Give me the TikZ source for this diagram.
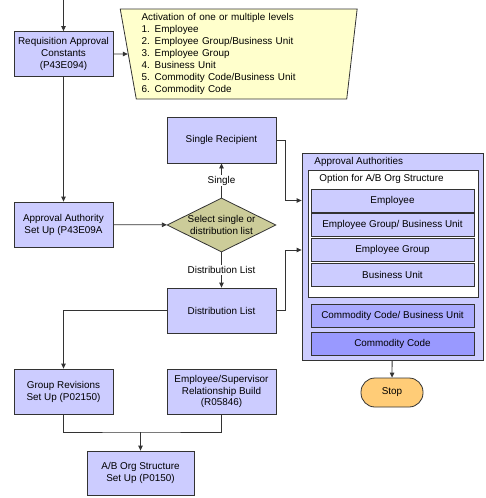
\documentclass[tikz,border=0pt]{standalone}
\usepackage{fontspec}
\setmainfont{Liberation Sans}
\usetikzlibrary{shapes.geometric,arrows.meta}
\definecolor{boxblue}{HTML}{CCCCFF}
\definecolor{ccbublue}{HTML}{AAAAFF}
\definecolor{ccblue}{HTML}{9999FF}
\definecolor{noteyellow}{HTML}{FFFFCC}
\definecolor{selolive}{HTML}{CCCC99}
\definecolor{stoporange}{HTML}{FFCC77}
\definecolor{linegray}{HTML}{333333}
\tikzset{
  box/.style={draw=linegray, fill=boxblue, align=center, minimum height=45pt, inner sep=1pt},
  lvl/.style={draw=linegray, fill=boxblue, minimum width=163pt, minimum height=23pt, inner sep=1pt},
  lbl/.style={fill=white, inner sep=1pt},
}
\begin{document}
\begin{tikzpicture}[x=1pt, y=-1pt, line width=0.8pt, draw=linegray,
    font=\fontsize{9.9}{11.9}\selectfont, >={Triangle[length=5pt,width=4.5pt]}]
                \useasboundingbox (0,0) rectangle (485,498);
                \coordinate (in) at (63.5,0);
                \node[box, minimum width=99pt] (rac) at (63.5,54) {Requisition Approval\\Constants\\(P43E094)};
                \node[trapezium, trapezium left angle=100.7, trapezium right angle=97, trapezium stretches=true,
                    minimum width=237pt, minimum height=90pt, text width=200pt, align=left,
                    draw=linegray, fill=noteyellow, inner sep=0pt] (act) at (241.5,54)
                    {Activation of one or multiple levels\\1. Employee\\2. Employee Group/Business Unit\\3. Employee Group\\4. Business Unit\\5. Commodity Code/Business Unit\\6. Commodity Code};
                \node[box, minimum width=99pt] (aas) at (63.5,224.5) {Approval Authority\\Set Up (P43E09A};
                \node[box, minimum width=109pt, minimum height=46pt] (sr) at (221.5,140) {Single Recipient};
                \node[diamond, aspect=2, draw=linegray, fill=selolive, align=center, inner xsep=-4pt, inner ysep=0pt,
                    minimum width=109pt, minimum height=54pt] (sel) at (221.5,225) {Select single or\\distribution list};
                \node[box, minimum width=109pt] (dl) at (221.5,310.5) {Distribution List};
                \node[box, minimum width=99pt] (grs) at (63.5,391.5) {Group Revisions\\Set Up (P02150)};
                \node[box, minimum width=109pt] (esr) at (221.5,391.5) {Employee/Supervisor\\Relationship Build\\(R05846)};
                \node[box, minimum width=107pt, minimum height=44pt] (abo) at (140.5,473) {A/B Org Structure\\Set Up (P0150)};
                \coordinate (join) at (140.5,432);

                \node[draw=linegray, fill=boxblue, minimum width=181pt, minimum height=207pt] (aa) at (392.5,256.5) {};
                \node[draw=linegray, fill=white, minimum width=170pt, minimum height=127pt] (opt) at (393,233.5) {};
                \node[anchor=west, inner sep=0pt] (aat) at (314,161.5) {Approval Authorities};
                \node[anchor=west, inner sep=0pt] (optt) at (319,179) {Option for A/B Org Structure};
                \node[lvl] (emp) at (392.5,200.5) {Employee};
                \node[lvl] (egbu) at (392.5,225) {Employee Group/ Business Unit};
                \node[lvl] (eg) at (392.5,250) {Employee Group};
                \node[lvl] (bu) at (392.5,275) {Business Unit};
                \node[lvl, fill=ccbublue] (ccbu) at (392.5,315.5) {Commodity Code/ Business Unit};
                \node[lvl, fill=ccblue] (cc) at (392.5,344) {Commodity Code};
                \node[draw=linegray, fill=stoporange, rounded corners=14pt, minimum width=62pt, minimum height=29pt] (stop) at (392,392.5) {Stop};

                \draw[->] (in) to (rac);
                \draw[->] (rac) to (act);
                \draw[->] (rac) to (aas);
                \draw[->] (aas) to (sel);
                \draw[->] (sel) to node[lbl] {Single} (sr);
                \draw[->] (sel) to node[lbl] {Distribution List} (dl);
                \draw[->] (sr.east) -- ++(9,0) |- (emp -| aa.west);
                \draw[->] (dl.east) -- ++(9,0) |- (eg -| aa.west);
                \draw[->] (dl.west) -| (grs.north);
                \draw (grs.south) |- (join) -| (esr.south);
                \draw[->] (join) to (abo);
                \draw[->] (aa) to (stop);
            \end{tikzpicture}
\end{document}
